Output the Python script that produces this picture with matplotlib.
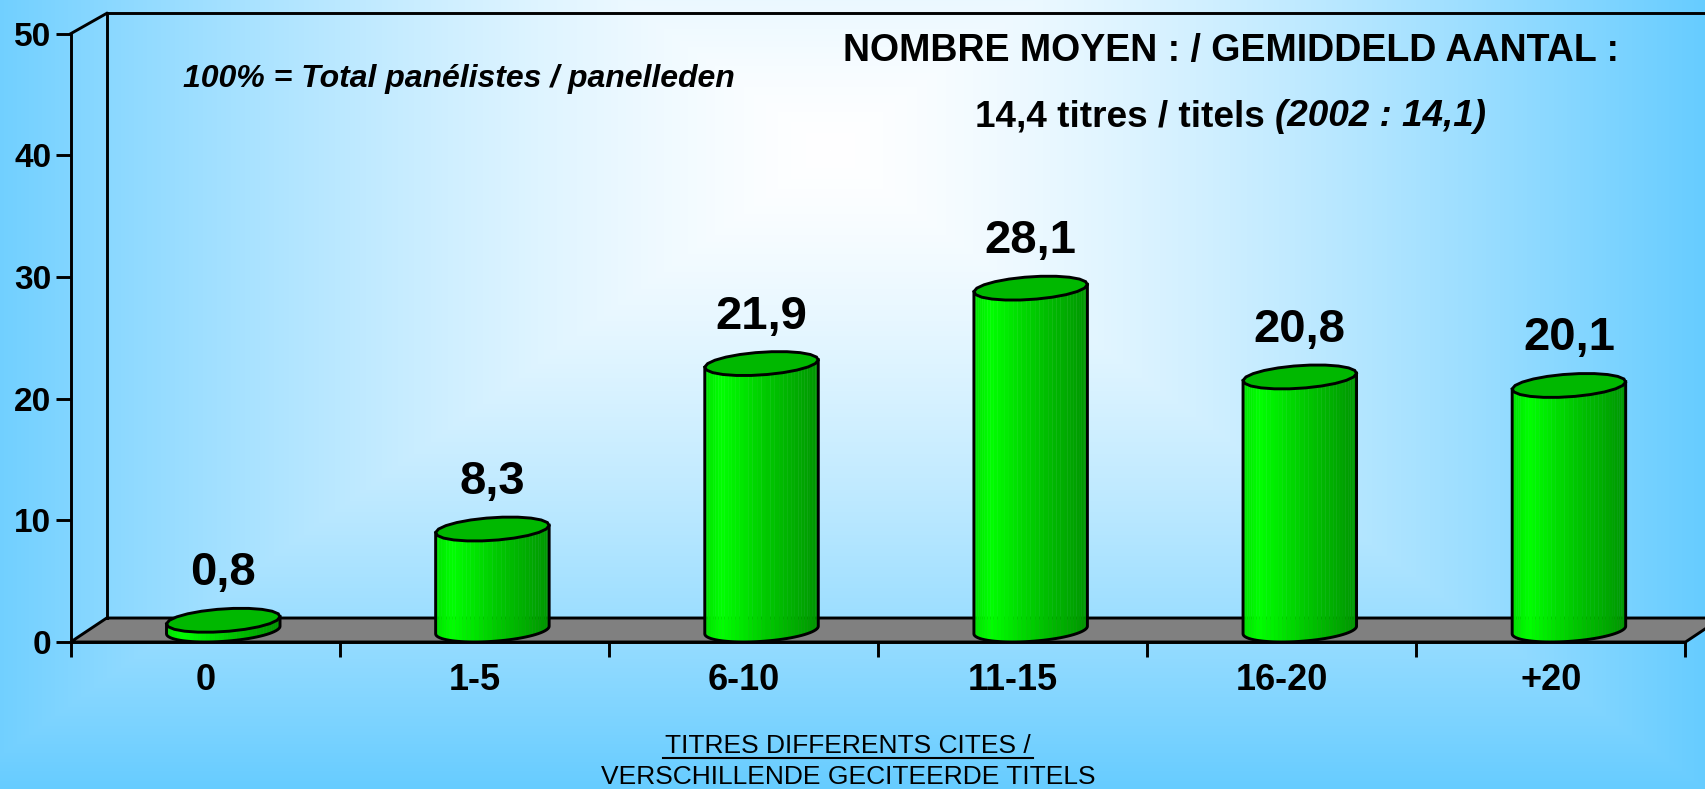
import numpy as np
import matplotlib
matplotlib.use("Agg")
import matplotlib.pyplot as plt
from matplotlib.patches import Polygon

categories = ["0", "1-5", "6-10", "11-15", "16-20", "+20"]
values = [0.8, 8.3, 21.9, 28.1, 20.8, 20.1]
value_labels = ["0,8", "8,3", "21,9", "28,1", "20,8", "20,1"]
y_ticks = [0, 10, 20, 30, 40, 50]

W, H = 1706, 789
plt.rcParams["font.family"] = ["Liberation Sans", "DejaVu Sans"]

fig = plt.figure(figsize=(W / 100, H / 100), dpi=100)

# background, lighter towards the middle
bg = fig.add_axes([0, 0, 1, 1], zorder=0)
xx, yy = np.meshgrid(np.arange(W), np.arange(H))
cx, cy = 830, 150
t = np.maximum(np.abs(xx - cx) / (W - cx), np.abs(yy - cy) / (H - cy))
t = np.clip(t, 0, 1)[..., None] ** 1.4
edge = np.array([102, 204, 255]) / 255
img = (1 - t) * np.array([1.0, 1.0, 1.0]) + t * edge
bg.imshow(img, aspect="auto")
bg.axis("off")

# front plane of the chart
left, right, top, bottom = 70.7, 1685.5, 33.7, 642
lw = 2.1
ax = fig.add_axes([left / W, 1 - bottom / H, (right - left) / W, (bottom - top) / H], zorder=1)
ax.set_xlim(0, 6)
ax.set_ylim(0, 50)
ax.patch.set_visible(False)
for s in ["top", "right"]:
    ax.spines[s].set_visible(False)
for s in ["left", "bottom"]:
    ax.spines[s].set_linewidth(lw)
ax.set_yticks(y_ticks)
ax.set_xticks(range(7))
ax.set_xticklabels([])
ax.tick_params(length=11, width=lw, pad=3)
for lab in ax.get_yticklabels():
    lab.set_fontsize(24)
    lab.set_fontweight("bold")

# depth in data units
dx, dy = 36 / 269.2, 24 / 12.17

# floor and back wall lines
ax.add_patch(Polygon([(0, 0), (6, 0), (6 + dx, dy), (dx, dy)], closed=True, fc="#808080", ec="black",
                     lw=lw, clip_on=False, zorder=1))
ax.plot([dx, dx], [dy, 50 + dy - 0.3], color="black", lw=lw, clip_on=False, zorder=1)
ax.plot([0, dx], [50, 50 + dy - 0.3], color="black", lw=lw, clip_on=False, zorder=1)
ax.plot([dx, 6 + dx], [50 + dy - 0.3] * 2, color="black", lw=lw, clip_on=False, zorder=1)


def side_color(f):
    # f goes from 0 at the left edge to 1 at the right edge
    g = np.interp(f, [0, 0.15, 0.55, 1], [225, 255, 200, 150])
    return (0, g / 255, 0)


bar_w = 0.4
n = 22
strips = 40
for i, v in enumerate(values):
    c = i + 0.5 + dx / 2
    th = np.linspace(0, 2 * np.pi, n + 1)
    ex = bar_w / 2 * np.cos(th) + dx / 2 * np.sin(th)
    ey = dy / 2 * np.sin(th)
    th0 = np.arctan2(dx, bar_w)
    arc = np.linspace(th0 - np.pi, th0, strips + 1)
    ax_ = bar_w / 2 * np.cos(arc) + dx / 2 * np.sin(arc)
    ay_ = dy / 2 * np.sin(arc)
    base_y = dy / 2
    for k in range(strips):
        f = (ax_[k] + ax_[k + 1] - 2 * ax_[0]) / 2 / (ax_[-1] - ax_[0])
        col = side_color(f)
        quad = [(c + ax_[k], base_y + ay_[k]), (c + ax_[k + 1], base_y + ay_[k + 1]),
                (c + ax_[k + 1], base_y + v + ay_[k + 1]), (c + ax_[k], base_y + v + ay_[k])]
        ax.add_patch(Polygon(quad, closed=True, fc=col, ec=col, lw=0.3, zorder=3))
    # outline of the body
    out = [(c + a, base_y + b) for a, b in zip(ax_, ay_)] + [(c + ax_[-1], base_y + v + ay_[-1]),
                                                            (c + ax_[0], base_y + v + ay_[0])]
    ax.add_patch(Polygon(out, closed=True, fc="none", ec="black", lw=lw, zorder=4))
    ax.add_patch(Polygon(np.c_[c + ex, base_y + v + ey], closed=True, fc="#00B800", ec="black", lw=lw, zorder=5))
    ax.text(c, v + 4.85, value_labels[i], ha="center", va="center", fontsize=34, fontweight="bold", zorder=6)

for i, cat in enumerate(categories):
    ax.text(i + 0.5, -3.2, cat, ha="center", va="center", fontsize=26, fontweight="bold")


def px_text(x, y, s, **kw):
    return fig.text(x / W, 1 - y / H, s, va="center", **kw)


px_text(183, 79, "100% = Total panélistes / panelleden", fontsize=23, fontweight="bold", style="italic")
px_text(1231, 51, "NOMBRE MOYEN : / GEMIDDELD AANTAL :", ha="center", fontsize=27, fontweight="bold")
px_text(1275, 117, "14,4 titres / titels ", ha="right", fontsize=26.6, fontweight="bold")
px_text(1275, 117, "(2002 : 14,1)", ha="left", fontsize=26.6, fontweight="bold", style="italic")

px_text(848, 746, "TITRES DIFFERENTS CITES /", ha="center", fontsize=19)
px_text(848, 777, "VERSCHILLENDE GECITEERDE TITELS", ha="center", fontsize=19)
fig.add_artist(plt.Line2D([663 / W, 1033 / W], [1 - 758 / H] * 2, color="black", lw=1.5))

fig.savefig("out.png", dpi=100)
